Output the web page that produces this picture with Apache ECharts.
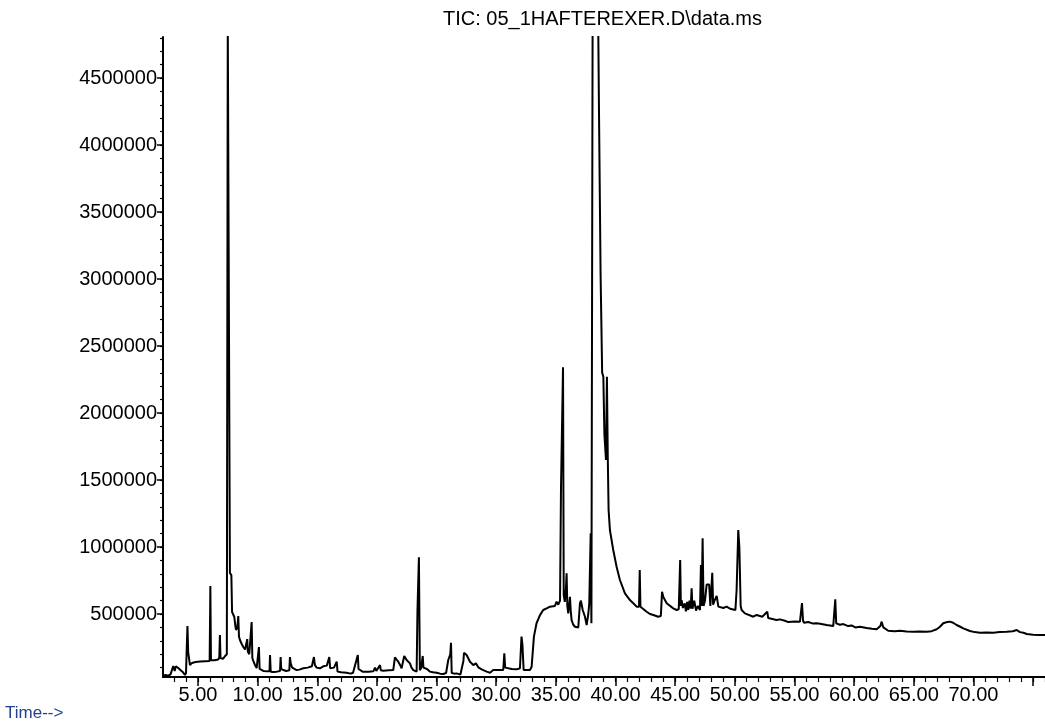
<!DOCTYPE html>
<html><head><meta charset="utf-8">
<script src="https://cdn.jsdelivr.net/npm/echarts@6/dist/echarts.min.js"></script>
<style>html,body{margin:0;padding:0;background:#fff}#c{width:1045px;height:727px}</style>
</head><body><div id="c"></div>
<script>
const titleText = 'TIC: 05_1HAFTEREXER.D\\data.ms';
const xAxisName = 'Time-->';

const times = [
2.07,2.3,2.5,2.7,2.85,2.93,3.05,3.15,3.35,3.55,3.75,3.91,4.00,4.05,4.12,4.18,4.28,4.33,4.5,4.8,
5.2,5.6,5.98,6.04,6.09,6.4,6.7,6.79,6.84,6.89,7.1,7.26,7.42,7.50,7.64,7.68,7.80,7.86,7.98,8.05,
8.12,8.19,8.30,8.38,8.44,8.52,8.65,8.80,8.95,9.05,9.13,9.18,9.30,9.45,9.50,9.56,9.64,9.80,9.92,10.05,
10.11,10.17,10.30,10.48,10.8,11.0,11.04,11.10,11.31,11.6,11.88,11.93,11.98,12.15,12.4,12.66,12.71,12.78,12.9,13.27,
13.5,13.83,14.2,14.55,14.72,14.8,14.95,15.23,15.5,15.8,16.01,16.08,16.4,16.63,16.7,17.0,17.46,17.8,18.0,18.40,
18.46,18.58,18.8,19.3,19.70,19.84,19.95,20.26,20.33,20.53,21.0,21.37,21.51,21.65,21.79,22.0,22.07,22.29,22.49,22.6,
22.77,22.9,23.05,23.33,23.40,23.52,23.60,23.7,23.84,23.90,24.03,24.2,24.45,24.7,25.01,25.3,25.57,25.8,25.98,26.15,
26.21,26.27,26.5,26.68,27.0,27.10,27.25,27.30,27.52,27.80,28.08,28.30,28.50,28.78,29.2,29.48,29.75,30.2,30.59,30.68,
30.75,30.88,31.3,31.71,31.99,32.12,32.20,32.30,32.6,32.83,32.97,33.16,33.38,33.67,33.94,34.23,34.5,34.92,35.06,35.2,
35.35,35.43,35.50,35.60,35.66,35.75,35.85,35.90,35.96,36.04,36.18,36.25,36.32,36.46,36.6,36.74,36.88,37.02,37.10,37.25,
37.44,37.58,37.63,37.72,37.80,37.92,37.98,38.08,38.55,38.62,38.75,38.88,38.98,39.07,39.20,39.28,39.35,39.42,39.53,39.81,
40.09,40.37,40.79,41.21,41.49,41.77,41.97,42.03,42.09,42.19,42.61,42.89,43.17,43.58,43.80,43.90,44.00,44.14,44.29,44.42,
44.84,45.12,45.30,45.42,45.48,45.54,45.65,45.8,45.9,46.0,46.1,46.2,46.3,46.38,46.45,46.6,46.75,46.9,47.08,47.16,
47.22,47.30,47.38,47.50,47.64,47.85,47.95,48.11,48.18,48.30,48.48,48.62,49.04,49.31,49.6,50.05,50.15,50.29,50.38,50.44,
50.49,50.57,50.85,51.0,51.55,51.83,52.3,52.72,52.8,52.95,53.5,53.78,54.2,54.48,55.04,55.46,55.63,55.72,55.8,56.16,
56.5,56.86,57.14,57.7,58.25,58.42,58.50,58.81,59.1,59.5,59.79,60.1,60.48,61.05,61.5,61.89,62.2,62.31,62.45,62.86,
63.4,63.84,64.4,64.96,65.5,66.08,66.5,66.92,67.2,67.47,67.8,68.03,68.3,68.59,68.9,69.15,69.71,70.1,70.55,71.1,
71.67,72.2,72.79,73.3,73.63,73.9,74.2,74.47,75.0,75.5,76.0
];

const intensities = [
40000,45000,38000,50000,60000,112000,75000,110000,97000,80000,65000,45000,60000,216000,410000,216000,216000,119000,135000,142000,
145000,148000,150000,709000,155000,155000,160000,175000,343000,172000,165000,185000,200000,4900000,4900000,806000,790000,515000,510000,478000,
420000,381000,400000,485000,330000,306000,280000,254000,235000,225000,313000,220000,200000,190000,440000,170000,150000,115000,97000,95000,
254000,90000,80000,75000,72000,72000,194000,70000,68000,70000,75000,179000,90000,82000,75000,80000,179000,130000,100000,82000,
85000,95000,100000,110000,179000,120000,100000,95000,110000,115000,179000,95000,100000,145000,70000,65000,62000,55000,62000,194000,
90000,95000,70000,70000,72000,100000,75000,119000,80000,77000,80000,82000,177000,160000,144000,110000,95000,187000,157000,150000,
132000,100000,82000,70000,530000,923000,80000,95000,187000,100000,102000,90000,70000,65000,62000,55000,52000,60000,157000,200000,
286000,60000,55000,57000,48000,45000,150000,211000,194000,144000,119000,132000,102000,87000,70000,62000,82000,82000,82000,207000,
100000,95000,90000,87000,95000,331000,269000,82000,82000,82000,107000,331000,431000,492000,530000,542000,555000,560000,592000,570000,
600000,1438000,1438000,2341000,640000,590000,700000,804000,560000,505000,629000,520000,455000,420000,405000,393000,400000,580000,600000,530000,
480000,418000,431000,500000,580000,1102000,431000,4900000,4900000,4210000,3030000,2300000,2270000,1840000,1650000,2270000,1680000,1276000,1127000,978000,
853000,754000,654000,604000,580000,555000,555000,828000,555000,545000,517000,500000,493000,480000,485000,666000,630000,604000,580000,567000,
542000,530000,535000,903000,560000,604000,545000,580000,520000,590000,530000,600000,540000,692000,540000,600000,525000,560000,530000,866000,
560000,1065000,560000,600000,720000,720000,560000,808000,570000,600000,635000,555000,545000,555000,540000,530000,679000,1127000,1000000,990000,
560000,530000,505000,505000,480000,493000,480000,517000,470000,468000,455000,460000,450000,440000,445000,443000,582000,450000,435000,440000,
430000,431000,428000,418000,410000,610000,430000,420000,425000,410000,415000,400000,405000,395000,390000,386000,410000,443000,400000,375000,
372000,375000,370000,368000,370000,368000,372000,386000,405000,431000,440000,443000,435000,418000,405000,393000,373000,365000,360000,362000,
360000,365000,368000,372000,381000,365000,360000,351000,345000,343000,343000
];

const xMajorTicks = [5,10,15,20,25,30,35,40,45,50,55,60,65,70,75];
const xLabelValues = [5,10,15,20,25,30,35,40,45,50,55,60,65,70];
const xMinorTicks = [];
for (let t = 3; t <= 76; t++) xMinorTicks.push(t);
const yMajorTicks = [500000,1000000,1500000,2000000,2500000,3000000,3500000,4000000,4500000];
const yMinorTicks = [];
for (let v = 100000; v <= 4800000; v += 100000) yMinorTicks.push(v);

const X_MIN = 2.07, X_MAX = 76.0, Y_MIN = 30000, Y_MAX = 4806000;
const FONT = "'Liberation Sans', Arial, sans-serif";

const chart = echarts.init(document.getElementById('c'), null, {renderer: 'canvas'});
chart.setOption({
  animation: false,
  backgroundColor: '#ffffff',
  grid: {left: 163, right: 0, top: 37, bottom: 50, containLabel: false},
  graphic: [
    {type: 'text', left: 443, top: 9, style: {text: titleText, font: "20px " + FONT, fill: '#000'}},
    {type: 'text', left: 5, top: 705, style: {text: xAxisName, font: "17px " + FONT, fill: '#23408c'}}
  ],
  xAxis: [
    {type: 'value', min: X_MIN, max: X_MAX, position: 'bottom',
     axisLine: {show: true, onZero: false, lineStyle: {color: '#000', width: 2}},
     axisTick: {show: true, customValues: xMajorTicks, length: 9, lineStyle: {color: '#000', width: 1.5}},
     axisLabel: {show: true, customValues: xLabelValues, formatter: v => Number(v).toFixed(2), color: '#000', fontSize: 20, fontFamily: FONT, margin: 8},
     splitLine: {show: false}},
    {type: 'value', min: X_MIN, max: X_MAX, position: 'bottom',
     axisLine: {show: false, onZero: false},
     axisTick: {show: true, customValues: xMinorTicks, length: 5, lineStyle: {color: '#000', width: 1.2}},
     axisLabel: {show: false}, splitLine: {show: false}}
  ],
  yAxis: [
    {type: 'value', min: Y_MIN, max: Y_MAX, position: 'left',
     axisLine: {show: true, onZero: false, lineStyle: {color: '#000', width: 2}},
     axisTick: {show: true, customValues: yMajorTicks, length: 6, lineStyle: {color: '#000', width: 1.5}},
     axisLabel: {show: true, customValues: yMajorTicks, formatter: v => String(Math.round(v)), color: '#000', fontSize: 20, fontFamily: FONT, margin: 6},
     splitLine: {show: false}},
    {type: 'value', min: Y_MIN, max: Y_MAX, position: 'left',
     axisLine: {show: false, onZero: false},
     axisTick: {show: true, customValues: yMinorTicks, length: 3, lineStyle: {color: '#000', width: 1.2}},
     axisLabel: {show: false}, splitLine: {show: false}}
  ],
  series: [{
    type: 'line', xAxisIndex: 0, yAxisIndex: 0,
    data: times.map((t, i) => [t, intensities[i]]),
    showSymbol: false, symbol: 'none', clip: true,
    lineStyle: {color: '#000', width: 2}
  }]
});
</script></body></html>
